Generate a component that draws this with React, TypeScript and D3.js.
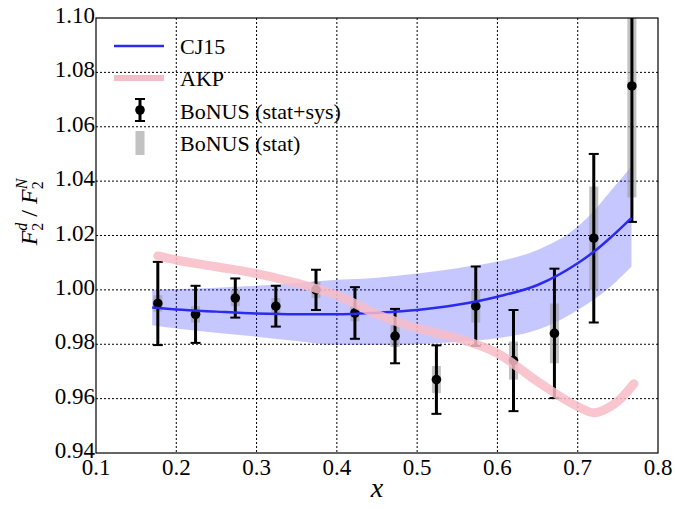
import React from "react";
import * as d3 from "d3";

// ---- data ----
const xTicks = [0.1, 0.2, 0.3, 0.4, 0.5, 0.6, 0.7, 0.8];
const yTicks = [0.94, 0.96, 0.98, 1.0, 1.02, 1.04, 1.06, 1.08, 1.1];

const cj15X = [0.17, 0.2, 0.25, 0.3, 0.35, 0.4, 0.45, 0.5, 0.55, 0.6, 0.65, 0.7, 0.72, 0.74, 0.767];
const cj15Y = [0.9935, 0.9928, 0.992, 0.9913, 0.991, 0.991, 0.9916, 0.9926, 0.9945, 0.9975, 1.0018, 1.0098, 1.014, 1.019, 1.0265];
const cj15Hi = [1.0, 1.0003, 1.0008, 1.0015, 1.0025, 1.0037, 1.0045, 1.006, 1.008, 1.0104, 1.0147, 1.0233, 1.029, 1.036, 1.0455];
const cj15Lo = [0.987, 0.9858, 0.9842, 0.9828, 0.9812, 0.9798, 0.9798, 0.98, 0.9808, 0.9822, 0.9853, 0.9926, 0.9965, 1.001, 1.0086];

const akpX = [0.177, 0.2, 0.25, 0.3, 0.33, 0.35, 0.4, 0.45, 0.5, 0.55, 0.6, 0.65, 0.7, 0.72, 0.74, 0.75, 0.77];
const akpY = [1.0125, 1.011, 1.0085, 1.006, 1.004, 1.0025, 0.998, 0.991, 0.9859, 0.9822, 0.9767, 0.9663, 0.9571, 0.9548, 0.957, 0.959, 0.9655];

const bonusX = [0.177, 0.224, 0.2735, 0.324, 0.374, 0.4225, 0.4725, 0.524, 0.573, 0.62, 0.671, 0.72, 0.7675];
const bonusY = [0.995, 0.991, 0.997, 0.994, 1.0, 0.9915, 0.983, 0.967, 0.994, 0.974, 0.984, 1.019, 1.075];
const bonusTot = [0.0153, 0.0105, 0.0072, 0.0075, 0.0074, 0.0095, 0.01, 0.0126, 0.0146, 0.0186, 0.0238, 0.031, 0.05];
const bonusStat = [0.003, 0.003, 0.003, 0.003, 0.003, 0.003, 0.004, 0.005, 0.006, 0.007, 0.011, 0.019, 0.041];

const legendLabels = ["CJ15", "AKP", "BoNUS (stat+sys)", "BoNUS (stat)"];

// ---- layout ----
const W = 675, H = 509;
const L = 96, R = 658, T = 18, B = 453;
const FONT = "Liberation Serif";

export default function App() {
  const x = d3.scaleLinear().domain([0.1, 0.8]).range([L, R]);
  const y = d3.scaleLinear().domain([0.94, 1.1]).range([B, T]);

  const band = d3
    .area<number>()
    .x((_, i) => x(cj15X[i]))
    .y0((_, i) => y(cj15Lo[i]))
    .y1((_, i) => y(cj15Hi[i]))
    .curve(d3.curveMonotoneX);
  const cjLine = d3
    .line<number>()
    .x((_, i) => x(cj15X[i]))
    .y((d) => y(d))
    .curve(d3.curveMonotoneX);
  const akpLine = d3
    .line<number>()
    .x((_, i) => x(akpX[i]))
    .y((d) => y(d))
    .curve(d3.curveMonotoneX);

  const cap = 5;

  return (
    <svg width={W} height={H} fontFamily={FONT} style={{ position: "absolute", left: 0, top: 0, background: "#fff" }}>
      <defs>
        <clipPath id="plotclip">
          <rect x={L} y={T} width={R - L} height={B - T} />
        </clipPath>
      </defs>
      <rect x={0} y={0} width={W} height={H} fill="#fff" />
      {/* grid */}
      <g stroke="#000" strokeWidth={1} strokeDasharray="2,2">
        {xTicks.slice(1, -1).map((t) => (
          <line key={"gx" + t} x1={x(t)} x2={x(t)} y1={T} y2={B} />
        ))}
        {yTicks.slice(1, -1).map((t) => (
          <line key={"gy" + t} x1={L} x2={R} y1={y(t)} y2={y(t)} />
        ))}
      </g>
      <g clipPath="url(#plotclip)">
        <path d={band(cj15Hi) || ""} fill="#0000ff" fillOpacity={0.22} stroke="none" />
        {/* data */}
        {bonusX.map((bx, i) => (
          <rect
            key={"st" + i}
            x={x(bx) - 4.5}
            width={9}
            y={y(bonusY[i] + bonusStat[i])}
            height={y(bonusY[i] - bonusStat[i]) - y(bonusY[i] + bonusStat[i])}
            fill="#999"
            fillOpacity={0.6}
          />
        ))}
        {bonusX.map((bx, i) => {
          const cx = x(bx);
          const y1 = y(bonusY[i] + bonusTot[i]);
          const y2 = y(bonusY[i] - bonusTot[i]);
          return (
            <g key={"eb" + i} stroke="#000" strokeWidth={3}>
              <line x1={cx} x2={cx} y1={y1} y2={y2} />
              <line x1={cx - cap} x2={cx + cap} y1={y1} y2={y1} strokeWidth={2} />
              <line x1={cx - cap} x2={cx + cap} y1={y2} y2={y2} strokeWidth={2} />
              <circle cx={cx} cy={y(bonusY[i])} r={4.8} fill="#000" stroke="none" />
            </g>
          );
        })}
        <path d={cjLine(cj15Y) || ""} fill="none" stroke="#2a2af0" strokeWidth={2.5} />
        <path
          d={akpLine(akpY) || ""}
          fill="none"
          stroke="#f8bcc8"
          strokeWidth={9}
          strokeOpacity={0.85}
          strokeLinecap="round"
        />
      </g>
      {/* frame */}
      <rect x={L} y={T} width={R - L} height={B - T} fill="none" stroke="#000" strokeWidth={1.2} />
      {/* ticks */}
      {xTicks.map((t) => (
        <text key={"tx" + t} x={x(t)} y={B + 22} textAnchor="middle" fontSize={23} fontFamily={FONT}>
          {d3.format(".1f")(t)}
        </text>
      ))}
      {yTicks.map((t) => (
        <text key={"ty" + t} x={L - 1} y={y(t) + 5} textAnchor="end" fontSize={23} fontFamily={FONT}>
          {d3.format(".2f")(t)}
        </text>
      ))}
      {/* axis labels */}
      <text x={(L + R) / 2} y={497} textAnchor="middle" fontSize={28} fontStyle="italic" fontFamily={FONT}>
        x
      </text>
      <g transform="translate(37,212) rotate(-90)">
        <text textAnchor="middle" fontSize={24} fontStyle="italic" fontFamily={FONT}>
          <tspan>F</tspan>
          <tspan fontSize={16} dy={6} fontStyle="normal">2</tspan>
          <tspan fontSize={16} dx={-8} dy={-16}>d</tspan>
          <tspan dy={10} fontStyle="normal"> / </tspan>
          <tspan>F</tspan>
          <tspan fontSize={16} dy={6} fontStyle="normal">2</tspan>
          <tspan fontSize={16} dx={-8} dy={-16}>N</tspan>
        </text>
      </g>
      {/* legend */}
      <line x1={114} x2={164} y1={46} y2={46} stroke="#2a2af0" strokeWidth={2.5} />
      <line x1={114} x2={164} y1={78} y2={78} stroke="#f8bcc8" strokeWidth={6} />
      <g stroke="#000">
        <line x1={140} x2={140} y1={99} y2={121} strokeWidth={3} />
        <line x1={135} x2={145} y1={99} y2={99} strokeWidth={2} />
        <line x1={135} x2={145} y1={121} y2={121} strokeWidth={2} />
        <circle cx={140} cy={110} r={4.8} fill="#000" stroke="none" />
      </g>
      <rect x={135.5} y={131} width={9} height={24} fill="#999" fillOpacity={0.6} />
      {legendLabels.map((lab, i) => (
        <text key={lab} x={180} y={54 + i * 32.3} fontSize={22} fontFamily={FONT}>
          {lab}
        </text>
      ))}
    </svg>
  );
}
